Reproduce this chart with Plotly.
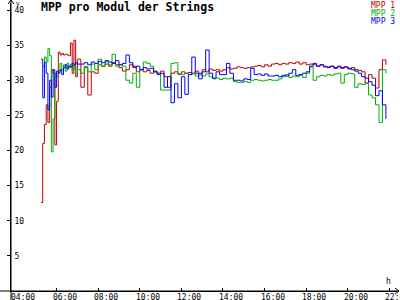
import pandas as pd
import plotly.graph_objects as go

DAY = "2024-01-01"
times_early = pd.date_range(f"{DAY} 05:15", f"{DAY} 07:00", freq="5min")
times_late = pd.date_range(f"{DAY} 07:10", f"{DAY} 21:50", freq="10min")
times = [t.strftime("%Y-%m-%d %H:%M") for t in list(times_early) + list(times_late)]

mpp1 = [12.6, 21.0, 23.7, 26.5, 24.0, 29.0, 31.5, 31.0, 20.8, 27.0, 34.0, 33.6,
        33.8, 33.6, 33.7, 33.6, 33.5, 35.3, 31.0, 35.7, 30.5, 33.0,
        29.0, 31.8, 27.9, 31.2, 31.0,
        32.2, 32.0, 32.3, 32.0, 32.5, 32.2,
        31.8, 31.3, 31.5, 32.2, 32.0, 31.2,
        31.5, 31.2, 31.4, 31.0, 31.3, 31.0,
        31.3, 30.5, 29.0, 31.0, 31.2, 30.9,
        31.2, 31.0, 31.1, 31.0, 31.3, 31.0,
        31.5, 31.2, 31.6, 31.4, 31.5, 31.3,
        31.5, 31.8, 31.6, 31.7, 31.9, 31.8,
        31.7, 31.8, 31.9, 32.0, 32.1, 31.9,
        32.2, 32.0, 32.3, 32.4, 32.2, 32.4,
        32.3, 32.5, 32.4, 32.6, 32.3, 32.5,
        32.2, 32.3, 32.2, 32.0, 32.2, 32.0,
        31.9, 32.0, 31.8, 31.9, 31.7, 31.9,
        31.6, 31.8, 31.5, 31.4, 31.2, 29.6,
        30.8, 30.3, 28.9, 31.5, 32.9, 32.2]

mpp2 = [None, 32.0, 33.3, 32.6, 34.5, 33.5, 19.8, 24.5, 31.0, 30.5, 31.2, 32.4,
        31.5, 32.2, 31.3, 32.4, 31.8, 32.3, 31.5, 32.0, 31.0, 31.5,
        31.0, 32.0, 31.2, 32.3, 31.5,
        33.0, 32.0, 32.6, 32.2, 33.7, 32.0,
        32.2, 32.0, 30.0, 29.6, 31.0, 29.0,
        31.5, 32.6, 32.4, 32.0, 31.2, 31.0,
        28.6, 28.6, 28.6, 32.4, 32.5, 30.8,
        30.8, 31.0, 30.8, 30.9, 30.6, 30.8,
        30.6, 30.9, 30.5, 30.2, 30.3, 30.1,
        30.3, 30.2, 30.3, 29.8, 29.7, 29.7,
        29.8, 29.7, 30.0, 30.1, 30.0, 29.9,
        30.0, 30.1, 30.0, 30.0, 30.2, 30.5,
        30.8, 30.4, 30.6, 30.5, 30.7, 30.4,
        31.0, 31.9, 30.0, 30.5, 30.7, 30.6,
        30.8, 30.7, 30.9, 31.0, 29.6, 30.8,
        31.0, 30.9, 29.0, 29.5, 29.4, 29.6,
        27.9, 27.5, 26.5, 24.0, 31.5, 31.0]

mpp3 = [33.0, 27.5, 32.5, 31.0, 25.8, 30.0, 27.6, 31.5, 29.0, 31.3, 31.0, 31.5,
        30.8, 31.8, 32.2, 31.6, 32.0, 31.9, 32.4, 32.2, 32.5, 32.3,
        32.3, 32.5, 32.2, 32.6, 32.4,
        32.7, 32.5, 32.8, 32.6, 32.4, 32.8,
        32.2, 32.4, 33.6, 32.5, 31.8, 32.0,
        31.5, 31.8, 31.6, 31.7, 31.2, 30.8,
        31.0, 29.0, 30.5, 26.8, 29.5, 27.5,
        30.5, 28.0, 30.8, 33.3, 31.0, 30.2,
        31.2, 34.3, 31.0, 30.3, 31.2, 30.8,
        30.8, 32.4, 31.0, 30.0, 30.0, 29.9,
        30.2, 30.1, 31.7, 30.8, 30.9, 30.7,
        30.9, 30.6, 30.6, 30.7, 30.5, 30.7,
        30.6, 31.0, 31.5, 30.7, 30.8, 31.0,
        31.2, 32.0, 32.4, 32.0, 32.2, 31.9,
        31.8, 32.0, 31.7, 32.0, 31.8, 31.9,
        31.7, 31.5, 31.3, 31.0, 30.5, 30.3,
        29.8, 29.3, 27.8, 28.5, 26.5, 24.5]

series_names = ["MPP 1", "MPP 2", "MPP 3"]
series_colors = ["#c00000", "#00b000", "#0000ff"]
x_tick_vals = [f"{DAY} {h:02d}:00" for h in [4, 6, 8, 10, 12, 14, 16, 18, 20, 22]]
x_tick_text = ["04:00", "06:00", "08:00", "10:00", "12:00", "14:00", "16:00", "18:00", "20:00", "22:00"]
y_tick_vals = [5, 10, 15, 20, 25, 30, 35, 40]

FONT = "DejaVu Sans Mono"
W, H = 400, 300
L, R, T, B = 11, 3, 3, 9
pw, ph = W - L - R, H - T - B

def px(xp):
    return (xp - L) / pw

def py(yp):
    return (H - B - yp) / ph

fig = go.Figure()
for name, vals, col in zip(series_names, [mpp1, mpp2, mpp3], series_colors):
    fig.add_trace(go.Scatter(x=times, y=vals, mode="lines", name=name,
                             line=dict(color=col, width=1, shape="hv"),
                             connectgaps=False, showlegend=False))

xrange_ = [f"{DAY} 03:48:30", f"{DAY} 22:22:00"]
yrange_ = [0, ph / 7.025]

fig.update_layout(
    width=W, height=H,
    margin=dict(l=L, r=R, t=T, b=B, pad=0, autoexpand=False),
    paper_bgcolor="white", plot_bgcolor="white",
    font=dict(family=FONT, size=8, color="black"),
    xaxis=dict(type="date", range=xrange_, tickvals=x_tick_vals, ticktext=x_tick_text,
               showticklabels=False, automargin=False,
               showgrid=False, zeroline=False, showline=True, linecolor="black", linewidth=1,
               ticks="inside", ticklen=3, tickcolor="black", tickwidth=1),
    yaxis=dict(range=yrange_, tickvals=y_tick_vals, showgrid=False, zeroline=False,
               showline=True, linecolor="black", linewidth=1, automargin=False,
               ticks="outside", ticklen=3, tickcolor="black", tickwidth=1,
               ticklabelposition="inside", ticklabelstandoff=2,
               tickfont=dict(family=FONT, size=8, color="black")),
    xaxis2=dict(type="date", range=xrange_, tickvals=x_tick_vals, overlaying="x", anchor="y",
                showticklabels=False, showgrid=False, zeroline=False, showline=False,
                automargin=False,
                ticks="outside", ticklen=2, tickcolor="black", tickwidth=1, side="bottom"),
    yaxis2=dict(range=yrange_, tickvals=y_tick_vals, overlaying="y", anchor="x",
                showticklabels=False, showgrid=False, zeroline=False, showline=False,
                automargin=False,
                ticks="inside", ticklen=3, tickcolor="black", tickwidth=1, side="left"),
)

line = dict(color="black", width=1)
shapes = [
    # y axis extension and arrow
    dict(type="line", xref="paper", yref="paper", x0=0, x1=0, y0=py(H), y1=py(0), line=line),
    dict(type="line", xref="paper", yref="paper", x0=px(L), y0=py(0), x1=px(L - 3), y1=py(4), line=line),
    dict(type="line", xref="paper", yref="paper", x0=px(L), y0=py(0), x1=px(L + 3), y1=py(4), line=line),
    # x axis extension and arrow
    dict(type="line", xref="paper", yref="paper", x0=px(0), x1=px(399), y0=0, y1=0, line=line),
    dict(type="line", xref="paper", yref="paper", x0=px(399), y0=0, x1=px(395), y1=py(H - B - 3), line=line),
    dict(type="line", xref="paper", yref="paper", x0=px(399), y0=0, x1=px(395), y1=py(H - B + 3), line=line),
]
fig.update_layout(shapes=shapes)

annotations = [
    dict(text="<b>MPP pro Modul der Strings</b>", x=px(40), y=py(7), xanchor="left", yanchor="middle",
         xref="paper", yref="paper", font=dict(family=FONT, size=11.5, color="black")),
    dict(text="V", x=px(15), y=py(3), xanchor="left", yanchor="middle",
         xref="paper", yref="paper", font=dict(family=FONT, size=6, color="black")),
    dict(text="h", x=px(385), y=py(281), xanchor="left", yanchor="middle",
         xref="paper", yref="paper", font=dict(family=FONT, size=8, color="black")),
]
for i, (name, col) in enumerate(zip(series_names, series_colors)):
    annotations.append(dict(text=name, x=px(396), y=py(6 + 8 * i), xanchor="right", yanchor="middle",
                            xref="paper", yref="paper", font=dict(family=FONT, size=8, color=col)))
# x tick labels, placed at the axis' own tick positions
for tv, tt in zip(x_tick_vals, x_tick_text):
    annotations.append(dict(text=tt, x=tv, xref="x", y=0, yref="paper", xanchor="center", yanchor="top",
                            xshift=8, yshift=-1, font=dict(family=FONT, size=8, color="black")))
for a in annotations:
    a.update(showarrow=False, borderpad=0)
fig.update_layout(annotations=annotations)

fig.write_html("out.html")
